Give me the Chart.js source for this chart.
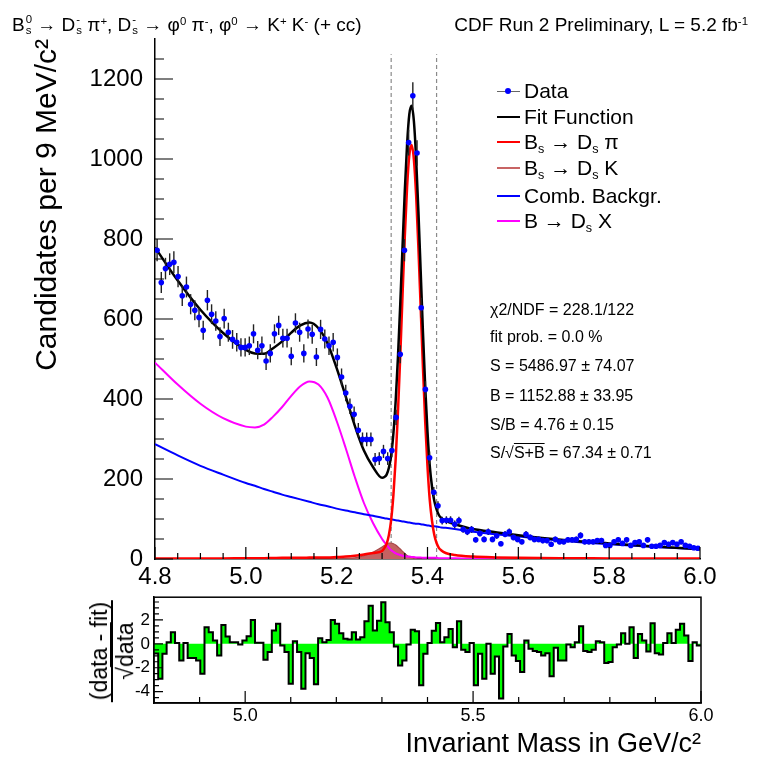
<!DOCTYPE html>
<html>
<head>
<meta charset="utf-8">
<script src="https://cdn.jsdelivr.net/npm/chart.js@4/dist/chart.umd.min.js"></script>
<style>
  body { margin: 0; background: #fff; font-family: "Liberation Sans", Arial, sans-serif; }
  #lienzo { position: relative; width: 757px; height: 763px; overflow: hidden; }
  canvas { position: absolute; left: 0; }
  .txt { position: absolute; white-space: nowrap; color: #000; }
  .ss { display: inline-flex; flex-direction: column; font-size: 0.6em; line-height: 0.95; vertical-align: 0.7em; text-align: left; margin-left: 1px; }
  sup { font-size: 0.6em; vertical-align: 0.55em; line-height: 0; }
  sub { font-size: 0.6em; vertical-align: -0.3em; line-height: 0; }
  .fila { position: absolute; left: 497px; height: 24px; width: 240px; font-size: 21px; line-height: 24px; white-space: nowrap; }
  .muestra { position: absolute; left: 0; top: 11px; width: 23px; height: 0; border-top: 2.5px solid #000; }
  .punto { position: absolute; left: 8px; top: 9px; width: 6px; height: 6px; border-radius: 50%; background: #00f; }
  .fila .t { position: absolute; left: 27px; top: 0; }
  .stat { position: absolute; left: 490px; font-size: 16px; line-height: 18px; white-space: nowrap; }
</style>
</head>
<body>
<div id="lienzo">
  <canvas id="residuos" width="757" height="180" style="top:583px"></canvas>
  <canvas id="principal" width="757" height="590" style="top:0"></canvas>

  <div class="txt" style="left:12px; top:13px; font-size:19px; line-height:24px">B<span class="ss"><span>0</span><span>s</span></span> &rarr; D<span class="ss"><span>-</span><span>s</span></span> &pi;<sup>+</sup>, D<span class="ss"><span>-</span><span>s</span></span> &rarr; &phi;<sup>0</sup> &pi;<sup>-</sup>, &phi;<sup>0</sup> &rarr; K<sup>+</sup> K<sup>-</sup> (+ cc)</div>
  <div class="txt" style="right:9px; top:13px; font-size:19px; line-height:24px">CDF Run 2 Preliminary, L = 5.2 fb<sup>-1</sup></div>

  <!-- leyenda -->
  <div class="fila" style="top:79px"><div class="muestra" style="border-top:1.5px solid #666; top:12px"></div><div class="punto"></div><span class="t">Data</span></div>
  <div class="fila" style="top:105px"><div class="muestra" style="border-color:#000"></div><span class="t">Fit Function</span></div>
  <div class="fila" style="top:130px"><div class="muestra" style="border-color:#ff0000"></div><span class="t">B<sub>s</sub> &rarr; D<sub>s</sub> &pi;</span></div>
  <div class="fila" style="top:156px"><div class="muestra" style="border-color:#c86464"></div><span class="t">B<sub>s</sub> &rarr; D<sub>s</sub> K</span></div>
  <div class="fila" style="top:184px"><div class="muestra" style="border-color:#0000ff"></div><span class="t">Comb. Backgr.</span></div>
  <div class="fila" style="top:209px"><div class="muestra" style="border-color:#ff00ff"></div><span class="t">B &rarr; D<sub>s</sub> X</span></div>

  <!-- resultados del ajuste -->
  <div class="stat" style="top:301px">&chi;2/NDF = 228.1/122</div>
  <div class="stat" style="top:328px">fit prob. = 0.0 %</div>
  <div class="stat" style="top:357px">S = 5486.97 &plusmn; 74.07</div>
  <div class="stat" style="top:387px">B = 1152.88 &plusmn; 33.95</div>
  <div class="stat" style="top:416px">S/B = 4.76 &plusmn; 0.15</div>
  <div class="stat" style="top:444px">S/&radic;<span style="text-decoration:overline">S+B</span> = 67.34 &plusmn; 0.71</div>

  <!-- titulo eje y del panel de residuos -->
  <div class="txt" style="left:112px; top:651px; transform:translate(-50%,-50%) rotate(-90deg); text-align:center; font-size:23px; line-height:24px">
    <div style="border-bottom:2px solid #000; padding:0 2px">(data - fit)</div>
    <div>&radic;<span style="text-decoration:overline">data</span></div>
  </div>
</div>

<script>
// ---- datos ----
const masaMin = 4.8;
const masaMax = 6.0;
const nBins = 130;
const anchoBin = (masaMax - masaMin) / nBins;

// candidatos por bin (puntos azules)
const candidatos = [
  772, 691, 726, 737, 742, 706, 658, 680, 637, 622,
  604, 572, 647, 612, 595, 556, 601, 567, 549, 542,
  529, 529, 533, 563, 522, 533, 495, 514, 563, 584,
  552, 552, 507, 590, 567, 514, 575, 562, 505, 574,
  550, 533, 542, 504, 455, 415, 382, 362, 322, 299,
  299, 299, 249, 251, 269, 251, 271, 354, 512, 772,
  1041, 1158, 1015, 628, 424, 253, 167, 133, 96, 97,
  97, 87, 96, 74, 68, 74, 48, 64, 49, 68,
  49, 58, 38, 62, 68, 54, 49, 43, 62, 54,
  49, 49, 46, 46, 37, 49, 43, 43, 48, 48,
  49, 59, 43, 43, 43, 46, 46, 34, 34, 43,
  48, 39, 48, 34, 41, 43, 34, 48, 32, 32,
  34, 41, 37, 41, 37, 43, 34, 32, 28, 27
];

// (data - fit)/sqrt(data) por bin
const residuos = [
  -0.8, -2.92, -0.83, 0.14, 0.97, 0.06, -1.39, 0.06, -1.19, -1.19,
  -1.39, -2.5, 1.39, 0.97, 0.28, -0.97, 1.58, 0.61, 0.14, 0.14,
  -0.05, 0.28, 0.64, 2.0, 0.08, 0.08, -1.33, -0.69, 1.11, 1.67,
  -0.14, -0.69, -3.33, 0.22, -0.69, -3.75, -0.78, -1.19, -3.39, 0.47,
  0.14, 0.33, 2.0, 1.67, 0.89, 0.42, 0.36, 0.97, 0.36, 0.56,
  1.89, 3.19, 1.11, 1.94, 3.47, 1.81, 0.97, -0.22, -1.81, -1.39,
  -0.06, 1.17, 1.06, -3.47, -0.83, 0.06, 1.1, 1.75, 0.14, 0.56,
  1.25, -0.28, 1.89, -0.5, -0.69, 0.06, -3.47, -0.83, -2.92, 0,
  -2.5, -1.06, -4.58, -0.22, 0.83, -0.97, -1.44, -2.36, 0.28, -0.42,
  -0.61, -0.69, -0.97, -0.78, -2.72, -0.33, -1.39, -1.39, -0.06, -0.28,
  0.14, 1.47, -0.61, -0.69, -0.5, 0.22, 0.14, -1.61, -1.53, -0.28,
  -0.06, 0.89, 0, 1.39, -1.19, 0.83, 0.28, -0.64, 1.72, -0.78,
  -0.89, 0.06, 0.89, 0.06, 1.17, 1.67, 0.69, -1.44, 0.14, -0.14
];

// curvas del ajuste, muestreadas en masaAjuste
const masaAjuste = [
  4.80, 4.85, 4.90, 4.95, 5.00, 5.02, 5.04, 5.06, 5.08, 5.10, 5.12, 5.14, 5.16, 5.18, 5.20, 5.22, 5.24, 5.26, 5.28,
  5.300, 5.305, 5.310, 5.315, 5.320, 5.325, 5.330, 5.335, 5.340, 5.345, 5.350, 5.355, 5.360, 5.365,
  5.370, 5.375, 5.380, 5.385, 5.390, 5.395, 5.400, 5.405, 5.410, 5.415, 5.420, 5.425, 5.430,
  5.44, 5.46, 5.50, 5.55, 5.60, 5.70, 5.80, 5.90, 6.00
];
const ajusteTotal = [
  779, 696, 623, 565, 523, 514, 513, 527, 544, 566, 584, 591, 577, 539, 477, 406, 333, 271, 230,
  203, 205, 211, 228, 259, 315, 397, 506, 637, 780, 920, 1036, 1112, 1133,
  1095, 1000, 869, 719, 567, 430, 318, 233, 180, 145, 124, 110, 103,
  95, 87, 75, 67, 59.5, 47.4, 38.8, 31.2, 25.2
];
const senalDsPi = [
  1, 1, 1.5, 1.5, 2, 2, 2, 2.5, 3, 3, 3, 3.5, 4, 4, 5, 6, 8, 11, 15,
  20, 27, 38, 60, 98, 161, 251, 368, 507, 659, 806, 929, 1010, 1035,
  999, 908, 777, 628, 478, 342, 231, 147, 95, 60, 40, 28, 22,
  15, 10, 6, 4, 3, 2, 1.5, 1, 1
];
const senalDsK = [
  0, 0, 0, 0, 0, 0, 0, 0, 0, 0, 0, 0, 0, 0, 1, 2, 3, 8, 17,
  30, 34, 37, 40, 40, 38, 35, 30, 25, 19, 14, 9, 5, 3,
  1.5, 0.5, 0, 0, 0, 0, 0, 0, 0, 0, 0, 0, 0,
  0, 0, 0, 0, 0, 0, 0, 0, 0
];
const fondoComb = [
  287, 259, 233, 211, 190, 183, 175, 168, 161, 155, 149, 143, 137, 132, 126, 121, 117, 112, 108,
  103, 102, 101, 100, 99, 98, 97, 96, 95, 94, 93, 92, 91, 90,
  89, 88, 88, 87, 86, 85, 84, 83, 82, 82, 81, 80, 79,
  78, 75, 68, 62, 56, 45, 37, 30, 24
];
const fondoDsX = [
  491, 436, 388, 352, 331, 329, 336, 356, 380, 408, 432, 444, 436, 403, 345, 277, 205, 140, 90,
  50, 42, 35, 28, 22, 18, 14, 12, 10, 8, 7, 6, 6, 5,
  5, 4, 4, 4, 3, 3, 3, 3, 3, 3, 3, 2, 2,
  2, 2, 1, 1, 0.5, 0.4, 0.3, 0.2, 0.2
];

// ventana de la senal (lineas discontinuas)
const ventanaSenal = [5.32, 5.42];
const alturaVentana = 1262;

// etiquetas de los ejes
const etiquetasMasa = [4.8, 5.0, 5.2, 5.4, 5.6, 5.8, 6.0];
const etiquetasCandidatos = [0, 200, 400, 600, 800, 1000, 1200];
const etiquetasResMasa = [5.0, 5.5, 6.0];
const etiquetasRes = [-4, -2, 0, 2];
//-----------------------------------------------------

const fuente = "'Liberation Sans', Arial, sans-serif";
Chart.defaults.font.family = fuente;
Chart.defaults.color = '#000';

const aPuntos = (xs, ys) => xs.map((x, i) => ({ x: x, y: ys[i] }));

// barras de error sqrt(N) de los datos
const barrasError = {
  id: 'barrasError',
  beforeDatasetDraw(chart, args) {
    if (args.index !== 0) return;
    const ctx = chart.ctx;
    const ejeY = chart.scales.y;
    ctx.save();
    ctx.strokeStyle = '#222';
    ctx.lineWidth = 1.4;
    args.meta.data.forEach((p, i) => {
      const n = candidatos[i];
      const e = Math.sqrt(n);
      ctx.beginPath();
      ctx.moveTo(p.x, ejeY.getPixelForValue(n + e));
      ctx.lineTo(p.x, ejeY.getPixelForValue(n - e));
      ctx.stroke();
    });
    ctx.restore();
  }
};

// marcas hacia dentro al estilo ROOT
const marcasInternas = (marcasX, marcasY, marco) => ({
  id: 'marcas',
  afterDraw(chart) {
    const ctx = chart.ctx;
    const a = chart.chartArea;
    ctx.save();
    ctx.strokeStyle = '#000';
    ctx.lineWidth = 1.2;
    ctx.beginPath();
    marcasX.forEach(m => {
      const px = chart.scales.x.getPixelForValue(m.v);
      ctx.moveTo(px, a.bottom);
      ctx.lineTo(px, a.bottom - m.l);
    });
    marcasY.forEach(m => {
      const py = chart.scales.y.getPixelForValue(m.v);
      ctx.moveTo(a.left, py);
      ctx.lineTo(a.left + m.l, py);
    });
    ctx.stroke();
    if (marco) {
      ctx.lineWidth = 1.5;
      ctx.strokeRect(a.left, a.top, a.right - a.left, a.bottom - a.top);
    }
    ctx.restore();
  }
});

const marcasMasa = [];
for (let k = 0; k <= 24; k++) marcasMasa.push({ v: 4.8 + k * 0.05, l: k % 4 === 0 ? 12 : 6 });
const marcasCand = [];
for (let k = 0; k <= 25; k++) marcasCand.push({ v: k * 50, l: k % 4 === 0 ? 18 : 9 });
const marcasResMasa = [];
for (let k = 0; k <= 12; k++) marcasResMasa.push({ v: 4.8 + k * 0.1, l: (k === 2 || k === 7 || k === 12) ? 12 : 6 });
const marcasRes = [];
for (let k = 0; k <= 16; k++) marcasRes.push({ v: -4.5 + k * 0.5, l: ((-4.5 + k * 0.5) % 2 === 0) ? 9 : 5 });

const curva = (datos, color, ancho) => ({
  data: aPuntos(masaAjuste, datos),
  borderColor: color,
  borderWidth: ancho,
  pointRadius: 0,
  fill: false,
  cubicInterpolationMode: 'monotone'
});

// grafico principal
const dibujarPrincipal = () => {
  const datosBins = candidatos.map((n, i) => ({ x: masaMin + (i + 0.5) * anchoBin, y: n }));
  const discontinuas = ventanaSenal.map(m => ({
    data: [{ x: m, y: 0 }, { x: m, y: alturaVentana }],
    borderColor: '#8a8a8a',
    borderWidth: 1.2,
    borderDash: [4, 3],
    pointRadius: 0,
    fill: false
  }));
  new Chart(document.querySelector('#principal').getContext('2d'), {
    type: 'line',
    data: {
      datasets: [
        { data: datosBins, showLine: false, pointRadius: 2.8, pointBorderWidth: 0,
          pointBackgroundColor: '#0000ff', borderColor: '#0000ff' },
        curva(ajusteTotal, '#000000', 2.5),
        curva(senalDsPi, '#ff0000', 2.5),
        curva(fondoComb, '#0000ff', 2),
        curva(fondoDsX, '#ff00ff', 2),
        Object.assign(curva(senalDsK, '#a84848', 1.2), { fill: 'origin', backgroundColor: '#c46262' }),
        ...discontinuas
      ]
    },
    options: {
      responsive: false,
      animation: false,
      events: [],
      layout: { padding: { top: 39, right: 57, left: 0, bottom: 0 } },
      plugins: { legend: { display: false }, tooltip: { enabled: false } },
      scales: {
        x: {
          type: 'linear', min: masaMin, max: masaMax,
          grid: { display: false, drawTicks: false },
          border: { display: true, color: '#000', width: 1.5 },
          afterBuildTicks: s => { s.ticks = etiquetasMasa.map(v => ({ value: v })); },
          ticks: { autoSkip: false, maxRotation: 0, padding: 4, font: { size: 24 }, callback: v => v.toFixed(1) },
          afterFit: s => { s.height = 31; }
        },
        y: {
          min: 0, max: 1300,
          grid: { display: false, drawTicks: false },
          border: { display: true, color: '#000', width: 1.5 },
          afterBuildTicks: s => { s.ticks = etiquetasCandidatos.map(v => ({ value: v })); },
          ticks: { autoSkip: false, padding: 12, font: { size: 24 }, callback: v => String(v) },
          title: { display: true, text: 'Candidates per 9 MeV/c²', align: 'end', font: { size: 30 }, padding: { top: 30, bottom: 0 } },
          afterFit: s => { s.width = 155; }
        }
      }
    },
    plugins: [barrasError, marcasInternas(marcasMasa, marcasCand, false)]
  });
};

// panel de residuos
const dibujarResiduos = () => {
  const escalon = residuos.map((r, i) => ({ x: masaMin + i * anchoBin, y: r }));
  escalon.push({ x: masaMax, y: residuos[residuos.length - 1] });
  new Chart(document.querySelector('#residuos').getContext('2d'), {
    type: 'line',
    data: {
      datasets: [{
        data: escalon,
        stepped: 'before',
        borderColor: '#000',
        borderWidth: 2,
        backgroundColor: '#00ff00',
        fill: 'origin',
        pointRadius: 0
      }]
    },
    options: {
      responsive: false,
      animation: false,
      events: [],
      layout: { padding: { top: 0, right: 56, left: 0, bottom: 0 } },
      plugins: { legend: { display: false }, tooltip: { enabled: false } },
      scales: {
        x: {
          type: 'linear', min: masaMin, max: masaMax,
          grid: { display: false, drawTicks: false },
          border: { display: true, color: '#000', width: 1.5 },
          afterBuildTicks: s => { s.ticks = etiquetasResMasa.map(v => ({ value: v })); },
          ticks: { autoSkip: false, maxRotation: 0, padding: 2, font: { size: 18 }, callback: v => v.toFixed(1) },
          title: { display: true, text: 'Invariant Mass in GeV/c²', align: 'end', font: { size: 27 }, padding: { top: 0, bottom: 2 } },
          afterFit: s => { s.height = 60; }
        },
        y: {
          min: -4.95, max: 3.9,
          grid: { display: false, drawTicks: false },
          border: { display: true, color: '#000', width: 1.5 },
          afterBuildTicks: s => { s.ticks = etiquetasRes.map(v => ({ value: v })); },
          ticks: { autoSkip: false, padding: 4, font: { size: 17 }, callback: v => String(v) },
          afterFit: s => { s.width = 154; }
        }
      }
    },
    plugins: [marcasInternas(marcasResMasa, marcasRes, true)]
  });
};

dibujarPrincipal();
dibujarResiduos();
</script>
</body>
</html>
